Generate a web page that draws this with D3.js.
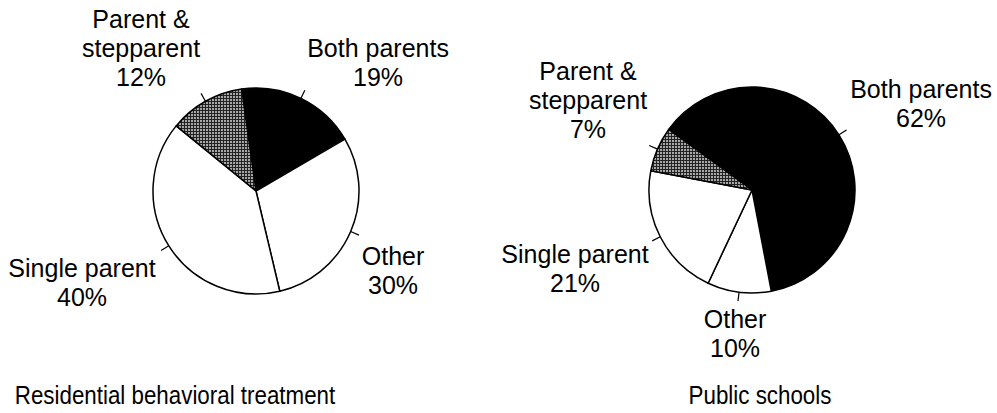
<!DOCTYPE html>
<html>
<head>
<meta charset="utf-8">
<script src="https://cdn.jsdelivr.net/npm/d3@7/dist/d3.min.js"></script>
<style>
	html, body { margin: 0; padding: 0; background: #fff; }
	svg { display: block; font-family: "Liberation Sans", Arial, Helvetica, sans-serif; }
</style>
</head>
<body>
<div id="chart"></div>
<script>
// categories, in drawing order (clockwise)
const categories = ['Both parents', 'Other', 'Single parent', 'Parent & stepparent'];
const labelLines = [['Both parents'], ['Other'], ['Single parent'], ['Parent &', 'stepparent']];

// percent of youth per family type
const residentialValues = [19, 30, 40, 12];
const publicSchoolValues = [62, 10, 21, 7];

const chartTitles = ['Residential behavioral treatment', 'Public schools'];

const width = 997;
const height = 413;
const radius = 103;

// layout: pie centre, start angle (deg), label anchors relative to centre
const panels = [
	{
		values: residentialValues,
		title: chartTitles[0],
		cx: 256, cy: 191, start: -8, titleX: 175,
		labels: [[122, -134], [137, 74], [-174, 86], [-115, -163]]
	},
	{
		values: publicSchoolValues,
		title: chartTitles[1],
		cx: 752, cy: 190, start: -54, titleX: 760,
		labels: [[169, -92], [-17, 138], [-177, 73], [-164, -110]]
	}
];

const fills = ['#000', '#fff', '#fff', 'url(#hatch)'];

const svg = d3.select('#chart').append('svg')
	.attr('width', width)
	.attr('height', height);

// grey cross-hatch for the stepparent slice
const pattern = svg.append('defs').append('pattern')
	.attr('id', 'hatch')
	.attr('patternUnits', 'userSpaceOnUse')
	.attr('width', 3)
	.attr('height', 3);
pattern.append('rect').attr('width', 3).attr('height', 3).attr('fill', '#a8a8a8');
pattern.append('rect').attr('width', 3).attr('height', 1).attr('fill', '#222');
pattern.append('rect').attr('width', 1).attr('height', 3).attr('fill', '#222');

const arc = d3.arc().innerRadius(0).outerRadius(radius);

panels.forEach(panel => {
	const start = panel.start * Math.PI / 180;
	const pie = d3.pie()
		.sort(null)
		.startAngle(start)
		.endAngle(start + 2 * Math.PI);

	const slices = pie(panel.values);
	const g = svg.append('g')
		.attr('transform', `translate(${panel.cx},${panel.cy})`);

	g.selectAll('path')
		.data(slices)
		.join('path')
		.attr('d', arc)
		.attr('fill', (d, i) => fills[i])
		.attr('stroke', '#000')
		.attr('stroke-width', 1.5)
		.attr('stroke-linejoin', 'round');

	// short ticks at the middle of each slice
	g.selectAll('line.tick')
		.data(slices)
		.join('line')
		.attr('class', 'tick')
		.attr('stroke', '#000')
		.attr('stroke-width', 1.2)
		.each(function(d) {
			const a = (d.startAngle + d.endAngle) / 2;
			d3.select(this)
				.attr('x1', Math.sin(a) * radius)
				.attr('y1', -Math.cos(a) * radius)
				.attr('x2', Math.sin(a) * (radius + 9))
				.attr('y2', -Math.cos(a) * (radius + 9));
		});

	const labels = g.selectAll('text.label')
		.data(slices)
		.join('text')
		.attr('class', 'label')
		.attr('text-anchor', 'middle')
		.attr('font-size', 25)
		.attr('fill', '#000')
		.attr('transform', (d, i) => `translate(${panel.labels[i][0]},${panel.labels[i][1]})`);

	labels.selectAll('tspan')
		.data((d, i) => labelLines[i].concat([d.value + '%']))
		.join('tspan')
		.attr('x', 0)
		.attr('y', (d, i) => i * 29)
		.text(d => d);

	// titles are taller and narrower than the labels
	svg.append('text')
		.attr('transform', `translate(${panel.titleX},404) scale(0.86,1)`)
		.attr('text-anchor', 'middle')
		.attr('font-size', 26)
		.attr('fill', '#000')
		.text(panel.title);
});
</script>
</body>
</html>
